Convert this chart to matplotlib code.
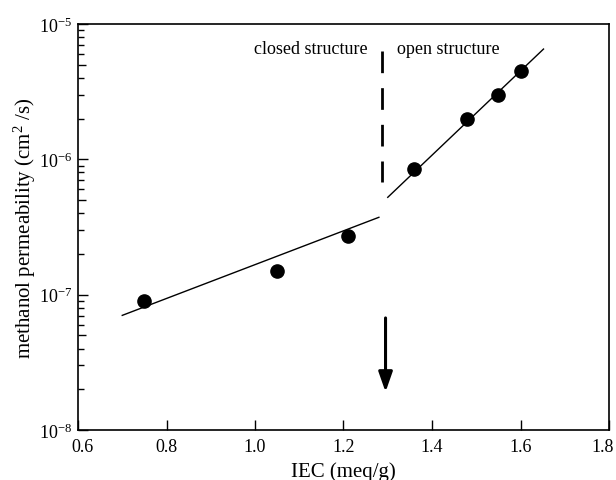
import matplotlib
matplotlib.use("Agg")
import matplotlib.pyplot as plt
import matplotlib.transforms as mtransforms
from matplotlib.ticker import FixedLocator, NullFormatter, LogFormatterSciNotation, NullLocator

plt.rcParams['font.family'] = ['Liberation Serif', 'DejaVu Serif']
plt.rcParams['mathtext.fontset'] = 'custom'
plt.rcParams['mathtext.rm'] = 'Liberation Serif'
plt.rcParams['mathtext.it'] = 'Liberation Serif:italic'
plt.rcParams['mathtext.bf'] = 'Liberation Serif:bold'
plt.rcParams['lines.scale_dashes'] = False

# data points
iec = [0.75, 1.05, 1.21, 1.36, 1.48, 1.55, 1.60]
perm = [8.98e-8, 1.49e-7, 2.70e-7, 8.48e-7, 1.99e-6, 2.99e-6, 4.50e-6]

# fitted lines (end points)
fit_closed_x = [0.70, 1.28]
fit_closed_y = [7.03e-8, 3.73e-7]
fit_open_x = [1.30, 1.652]
fit_open_y = [5.24e-7, 6.53e-6]

# transition marker
trans_x = 1.288
trans_y = [6.35e-6, 6.84e-7]
arrow_x = 1.295
arrow_y = [6.73e-8, 1.91e-8]

xticks = [0.6, 0.8, 1.0, 1.2, 1.4, 1.6, 1.8]
xticklabels = ['0.6', '0.8', '1.0', '1.2', '1.4', '1.6', '1.8']
ydecades = [1e-8, 1e-7, 1e-6, 1e-5]

pos = [78/616, 1-431/481, (609-78)/616, (431-25)/481]
fig = plt.figure(figsize=(6.16, 4.81), dpi=100)

# medium ticks at 5 x 10^n on an underlying axes (drawn first)
ax5 = fig.add_axes(pos, frameon=False)
ax5.set_yscale('log')
ax5.set_xlim(0.6, 1.8)
ax5.set_ylim(1e-8, 1e-5)
ax5.set_xticks([])
mid = [5 * d for d in ydecades[:-1]]
ax5.yaxis.set_major_locator(FixedLocator(mid))
ax5.yaxis.set_major_formatter(NullFormatter())
ax5.yaxis.set_minor_locator(NullLocator())
ax5.tick_params(axis='y', which='both', direction='in', length=5.8, width=1.0,
                left=True, right=False, labelleft=False)

ax = fig.add_axes(pos)
ax.patch.set_visible(False)
ax.set_yscale('log')
ax.set_xlim(0.6, 1.8)
ax.set_ylim(1e-8, 1e-5)

ax.plot(fit_closed_x, fit_closed_y, color='black', lw=1.0)
ax.plot(fit_open_x, fit_open_y, color='black', lw=1.0)
ax.plot(iec, perm, 'o', color='black', markersize=9.5, zorder=3)

ax.plot([trans_x, trans_x], trans_y, color='black', lw=2.0, dashes=(15.6, 10.8))
ax.annotate('', xy=(arrow_x, arrow_y[1]), xytext=(arrow_x, arrow_y[0]),
            arrowprops=dict(arrowstyle='-|>,head_length=1.2,head_width=0.42',
                            color='black', lw=2.2, shrinkA=0, shrinkB=0,
                            mutation_scale=10))

ax.text(1.254, 6.07e-6, 'closed structure', ha='right', va='baseline', fontsize=13)
ax.text(1.321, 6.07e-6, 'open structure', ha='left', va='baseline', fontsize=13)

ax.set_xticks(xticks)
ax.set_xticklabels(xticklabels)
ax.xaxis.set_minor_locator(NullLocator())

ax.yaxis.set_major_locator(FixedLocator(ydecades))
ax.yaxis.set_major_formatter(LogFormatterSciNotation())
minor = []
for d in ydecades[:-1]:
    for m in [2, 3, 4, 6, 7, 8, 9]:
        minor.append(m * d)
ax.yaxis.set_minor_locator(FixedLocator(minor))
ax.yaxis.set_minor_formatter(NullFormatter())

ax.tick_params(axis='both', which='major', direction='in', length=7.5, width=1.0,
               labelsize=13, top=False, right=False)
ax.tick_params(axis='y', which='minor', direction='in', length=4, width=1.0,
               right=False)
ax.tick_params(axis='x', which='major', pad=6)
ax.tick_params(axis='y', which='major', pad=4)

# nudge end x tick labels inward like the reference
labs = ax.get_xticklabels()
labs[0].set_transform(labs[0].get_transform() +
                      mtransforms.ScaledTranslation(5/100, 0, fig.dpi_scale_trans))
labs[-1].set_transform(labs[-1].get_transform() +
                       mtransforms.ScaledTranslation(-6.5/100, 0, fig.dpi_scale_trans))

for s in ax.spines.values():
    s.set_linewidth(1.2)

ax.set_xlabel('IEC (meq/g)', fontsize=15, labelpad=4)
ax.set_ylabel('methanol permeability (cm$^2$ /s)', fontsize=15)
ax.yaxis.set_label_coords(-0.075, 0.5)

fig.savefig('out.png', dpi=100)
